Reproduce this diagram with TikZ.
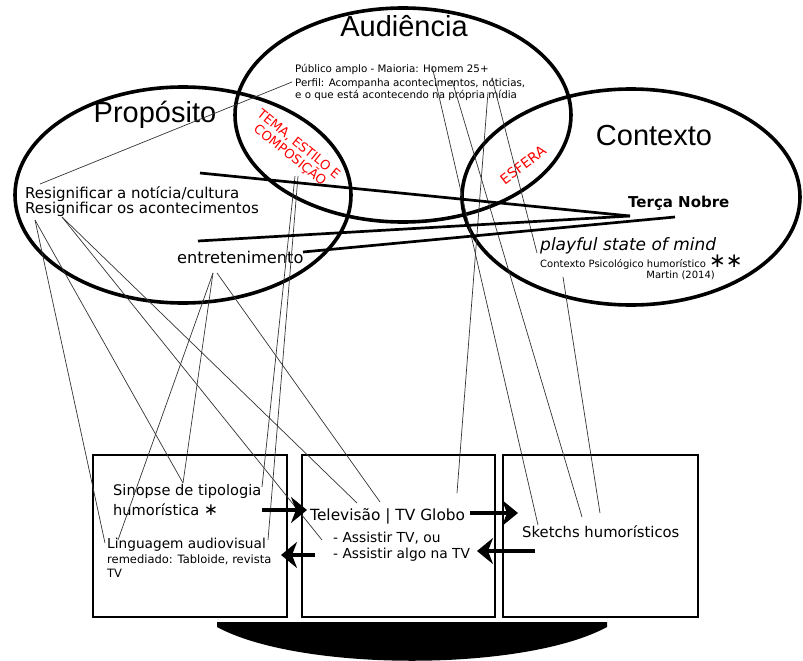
\documentclass[tikz,border=0pt]{standalone}
\usepackage{fontspec}
\setmainfont{DejaVu Sans}
\newfontfamily\titlefont{Liberation Sans}
\usetikzlibrary{arrows.meta}

\tikzset{
	bubble/.style={line width=3.6pt},
	txt/.style={inner sep=0pt, anchor=base west},
	ttl/.style={inner sep=0pt, anchor=base, font=\titlefont\fontsize{29}{30}\selectfont},
	redtxt/.style={inner sep=0pt, text=red, align=center},
	thinlink/.style={draw=black!80, line width=0.7pt},
	thicklink/.style={line width=2.7pt},
	panel/.style={line width=2.7pt},
	bigarrow/.style={line width=4pt, -{Stealth[length=16pt,width=26pt,inset=5pt]}}
}
\newcommand{\bigstar}[1]{{\fontsize{#1}{#1}\selectfont ∗}}

\begin{document}
\begin{tikzpicture}[x=1pt,y=-1pt]
	\useasboundingbox (0,0) rectangle (803,661);
	% the three bubbles
	\draw[bubble] (183,195) ellipse [x radius=168pt, y radius=108pt];
	\draw[bubble] (403,115) ellipse [x radius=168pt, y radius=107pt];
	\draw[bubble] (631,197) ellipse [x radius=169pt, y radius=108pt];
	\node[ttl] (aud) at (404,37) {Audiência};
	\node[ttl] (prop) at (155,122) {Propósito};
	\node[ttl] (ctx) at (654,145) {Contexto};
	% Audiencia text
	\node[txt, font=\fontsize{10.3}{11}\selectfont] (pub) at (295,73) {Público amplo - Maioria: Homem 25+};
	\node[txt, font=\fontsize{10.3}{11}\selectfont] (perf) at (295,86) {Perfil: Acompanha acontecimentos, nóticias,};
	\node[txt, font=\fontsize{10.3}{11}\selectfont] (midia) at (295,99) {e o que está acontecendo na própria mídia};
	% Proposito text
	\node[txt, font=\fontsize{15}{16}\selectfont] (res1) at (25,198) {Resignificar a notícia/cultura};
	\node[txt, font=\fontsize{15}{16}\selectfont] (res2) at (25,213) {Resignificar os acontecimentos};
	\node[txt, font=\fontsize{16.2}{17}\selectfont] (ent) at (177,263) {entretenimento};
	% Contexto text
	\node[txt, font=\bfseries\fontsize{15}{16}\selectfont] (tn) at (628,207) {Terça Nobre};
	\node[txt, font=\itshape\fontsize{17}{18}\selectfont] (play) at (540,250) {playful state of mind};
	\node[txt, font=\fontsize{10}{11}\selectfont] (psi) at (540,267) {Contexto Psicológico humorístico \bigstar{20}\bigstar{20}};
	\node[inner sep=0pt, anchor=base east, font=\fontsize{10}{11}\selectfont] (mart) at (715,278) {Martin (2014)};
	% overlaps
	\node[redtxt, rotate=-39, font=\fontsize{13}{14}\selectfont] (tema) at (294,150) {TEMA, ESTILO E\\COMPOSIÇÃO};
	\node[redtxt, rotate=37, font=\fontsize{14}{15}\selectfont] (esf) at (523,165) {ESFERA};

	% the three panels
	\draw[panel] (93,455) rectangle (287,617);
	\draw[panel] (302,455) rectangle (495,617);
	\draw[panel] (503,455) rectangle (698,617);
	\fill (217,622) -- (217,627) .. controls (300,672) and (524,672) .. (607,627) -- (607,622) -- cycle;
	\node[txt, font=\fontsize{14.6}{15}\selectfont] (sin) at (113,495) {Sinopse de tipologia};
	\node[txt, font=\fontsize{14.6}{15}\selectfont] (hum) at (113,515) {humorística \bigstar{17}};
	\node[txt, font=\fontsize{13.7}{14}\selectfont] (ling) at (107,548) {Linguagem audiovisual};
	\node[txt, font=\fontsize{11.5}{12}\selectfont] (rem) at (107,563) {remediado: Tabloide, revista};
	\node[txt, font=\fontsize{11.5}{12}\selectfont] (rtv) at (107,577) {TV};
	\node[txt, font=\fontsize{15.4}{16}\selectfont] (tv) at (310,520) {Televisão | TV Globo};
	\node[txt, font=\fontsize{13.8}{14}\selectfont] (as1) at (333,542) {- Assistir TV, ou};
	\node[txt, font=\fontsize{13.8}{14}\selectfont] (as2) at (333,558) {- Assistir algo na TV};
	\node[txt, font=\fontsize{14.8}{15}\selectfont] (sk) at (522,537) {Sketchs humorísticos};

	% link ends
	\coordinate (pa) at (292,82);
	\coordinate (pb) at (40,184);
	\coordinate (a1) at (432,66);
	\coordinate (a2) at (452,80);
	\coordinate (a3) at (488,92);
	\coordinate (a4) at (492,78);
	\coordinate (pl) at (537,253);
	\coordinate (cp) at (563,277);
	\coordinate (sk1) at (538,525);
	\coordinate (sk2) at (582,517);
	\coordinate (sk3) at (600,513);
	\coordinate (tv1) at (457,493);
	\coordinate (tv2) at (357,503);
	\coordinate (tv3) at (380,502);
	\coordinate (asx) at (322,540);
	\coordinate (r1) at (35,220);
	\coordinate (r2) at (62,217);
	\coordinate (e1) at (213,273);
	\coordinate (e2) at (217,273);
	\coordinate (c1) at (295,176);
	\coordinate (c2) at (298,176);
	\coordinate (sn1) at (183,483);
	\coordinate (sn2) at (262,487);
	\coordinate (lg1) at (105,543);
	\coordinate (lg2) at (118,540);
	\coordinate (lg3) at (268,540);
	\coordinate (t1) at (200,173);
	\coordinate (t2) at (198,241);
	\coordinate (t3) at (303,252);
	\coordinate (tn1) at (630,216);
	\coordinate (tn2) at (675,217);

	% thin links
	\draw[thinlink] (pa) -- (pb);
	\draw[thinlink] (a1) -- (sk1);
	\draw[thinlink] (a2) -- (sk2);
	\draw[thinlink] (a3) -- (tv1);
	\draw[thinlink] (a4) -- (pl);
	\draw[thinlink] (cp) -- (sk3);
	\draw[thinlink] (r1) -- (lg1);
	\draw[thinlink] (r1) -- (sn1);
	\draw[thinlink] (r2) -- (asx);
	\draw[thinlink] (r2) -- (tv2);
	\draw[thinlink] (e1) -- (lg2);
	\draw[thinlink] (e1) -- (sn1);
	\draw[thinlink] (e2) -- (tv3);
	\draw[thinlink] (c1) -- (sn2);
	\draw[thinlink] (c2) -- (lg3);
	% thick links to Terca Nobre
	\draw[thicklink] (t1) -- (tn1);
	\draw[thicklink] (t2) -- (tn1);
	\draw[thicklink] (t3) -- (tn2);
	% arrows between panels
	\coordinate (h1) at (262,510);
	\coordinate (h2) at (307,510);
	\coordinate (g1) at (470,513);
	\coordinate (g2) at (518,513);
	\coordinate (k1) at (535,551);
	\coordinate (k2) at (477,551);
	\coordinate (s1) at (315,555);
	\coordinate (s2) at (281,555);
	\draw[bigarrow] (h1) -- (h2);
	\draw[bigarrow] (g1) -- (g2);
	\draw[bigarrow] (k1) -- (k2);
	\draw[bigarrow] (s1) -- (s2);
\end{tikzpicture}
\end{document}
